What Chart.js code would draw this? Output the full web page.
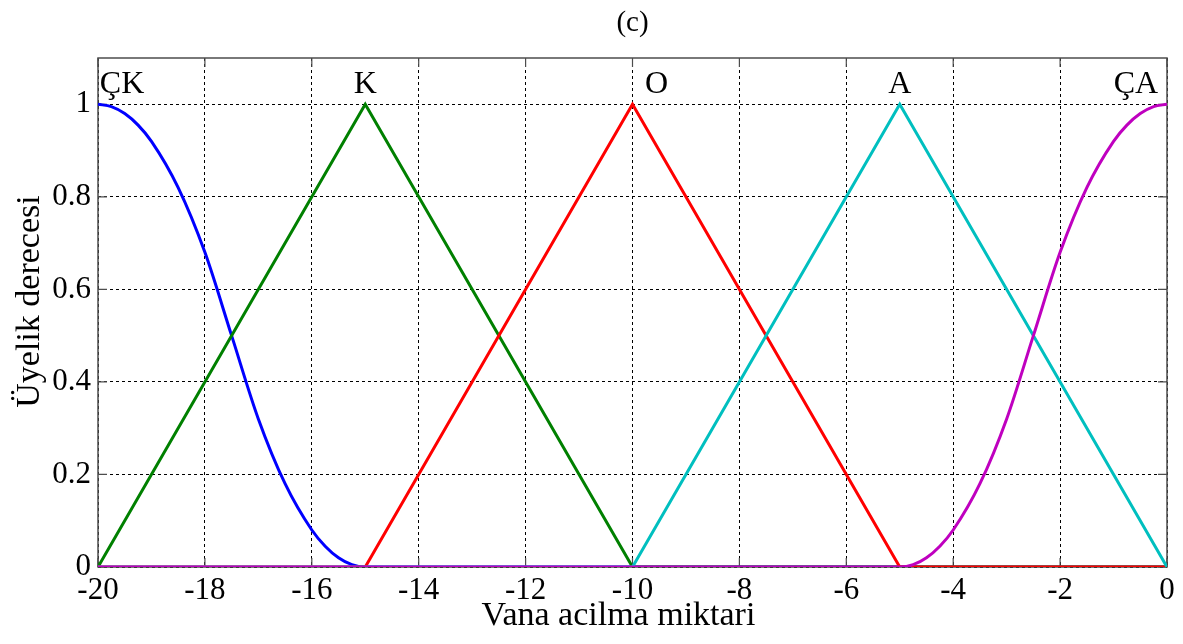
<!DOCTYPE html>
<html>
<head>
<meta charset="utf-8">
<script src="https://cdn.jsdelivr.net/npm/chart.js@4/dist/chart.umd.min.js"></script>
<style>
  html, body { margin: 0; padding: 0; background: #fff; }
  #wrap { width: 1183px; height: 644px; }
</style>
</head>
<body>
<div id="wrap"><canvas id="c" width="1183" height="644"></canvas></div>
<script>
// Membership functions of the valve-opening output variable
const xTicks = [-20, -18, -16, -14, -12, -10, -8, -6, -4, -2, 0];
const yTicks = [0, 0.2, 0.4, 0.6, 0.8, 1];
const yTickLabels = ['0', '0.2', '0.4', '0.6', '0.8', '1'];

// ÇK: Z-shaped curve, sampled
const ckX = [-20, -19.75, -19.5, -19.25, -19, -18.5, -18, -17.5, -17, -16.5, -16, -15.75, -15.5, -15.25, -15, 0];
const ckY = [1, 0.995, 0.98, 0.955, 0.92, 0.82, 0.68, 0.5, 0.32, 0.18, 0.08, 0.045, 0.02, 0.005, 0, 0];
// K, O, A: triangles
const kX = [-20, -15, -10, 0];
const kY = [0, 1, 0, 0];
const oX = [-20, -15, -10, -5, 0];
const oY = [0, 0, 1, 0, 0];
const aX = [-20, -10, -5, 0];
const aY = [0, 0, 1, 0];
// ÇA: S-shaped curve, sampled
const caX = [-20, -5, -4.75, -4.5, -4.25, -4, -3.5, -3, -2.5, -2, -1.5, -1, -0.75, -0.5, -0.25, 0];
const caY = [0, 0, 0.005, 0.02, 0.045, 0.08, 0.18, 0.32, 0.5, 0.68, 0.82, 0.92, 0.955, 0.98, 0.995, 1];

// Set names written above the peaks
const setNames = ['ÇK', 'K', 'O', 'A', 'ÇA'];
const setNameX = [-19.55, -15, -9.55, -5, -0.58];
const setNameY = 1.024;

const xTitle = 'Vana acilma miktari';
const yTitle = 'Üyelik derecesi';

const serif = '"Liberation Serif", "Times New Roman", serif';

const pts = (xs, ys) => xs.map((x, i) => ({ x: x, y: ys[i] }));

const frame = {
  id: 'frame',
  beforeDatasetsDraw(chart) {
    const { ctx, chartArea: a, scales } = chart;
    ctx.save();
    ctx.strokeStyle = '#4d4d4d';
    ctx.lineWidth = 1.5;
    ctx.strokeRect(a.left, a.top, a.right - a.left, a.bottom - a.top);
    const tl = 9;
    ctx.lineWidth = 1.2;
    ctx.beginPath();
    xTicks.forEach(v => {
      const px = scales.x.getPixelForValue(v);
      ctx.moveTo(px, a.bottom); ctx.lineTo(px, a.bottom - tl);
      ctx.moveTo(px, a.top); ctx.lineTo(px, a.top + tl);
    });
    yTicks.forEach(v => {
      const py = scales.y.getPixelForValue(v);
      ctx.moveTo(a.left, py); ctx.lineTo(a.left + tl, py);
      ctx.moveTo(a.right, py); ctx.lineTo(a.right - tl, py);
    });
    ctx.stroke();
    ctx.restore();
  },
  afterDatasetsDraw(chart) {
    const { ctx, scales, chartArea: a } = chart;
    ctx.save();
    ctx.fillStyle = '#000';
    ctx.font = '32px ' + serif;
    ctx.textAlign = 'center';
    ctx.textBaseline = 'alphabetic';
    setNames.forEach((t, i) => {
      ctx.fillText(t, scales.x.getPixelForValue(setNameX[i]), scales.y.getPixelForValue(setNameY));
    });
    // axis titles
    ctx.font = '34px ' + serif;
    ctx.fillText(xTitle, (a.left + a.right) / 2 - 14, 625);
    ctx.translate(39, (a.top + a.bottom) / 2 - 11);
    ctx.rotate(-Math.PI / 2);
    ctx.fillText(yTitle, 0, 0);
    ctx.restore();
  }
};

const lineDs = (xs, ys, color, order, smooth) => ({
  data: pts(xs, ys),
  borderColor: color,
  backgroundColor: color,
  borderWidth: 3,
  pointRadius: 0,
  fill: false,
  order: order,
  tension: smooth ? 0.4 : 0,
  cubicInterpolationMode: smooth ? 'monotone' : 'default'
});

new Chart(document.getElementById('c'), {
  type: 'line',
  data: {
    datasets: [
      lineDs(ckX, ckY, '#0000ff', 5, true),
      lineDs(kX, kY, '#008000', 4, false),
      lineDs(oX, oY, '#ff0000', 3, false),
      lineDs(aX, aY, '#00bfbf', 2, false),
      lineDs(caX, caY, '#bf00bf', 1, true)
    ]
  },
  options: {
    responsive: false,
    animation: false,
    layout: { padding: { left: 0, right: 16, top: 0, bottom: 0 } },
    plugins: {
      legend: { display: false },
      tooltip: { enabled: false },
      title: {
        display: true,
        text: '(c)',
        fullSize: false,
        color: '#000',
        font: { family: serif, size: 29, weight: 'normal', lineHeight: 1.2 },
        padding: { top: 6, bottom: 17.2 }
      }
    },
    scales: {
      x: {
        type: 'linear',
        min: -20, max: 0,
        afterBuildTicks: s => { s.ticks = xTicks.map(v => ({ value: v })); },
        afterFit: s => { s.height = 77; },
        ticks: {
          color: '#000',
          font: { family: serif, size: 31 },
          padding: 5,
          maxRotation: 0,
          autoSkip: false,
          callback: v => String(v)
        },
        grid: { color: '#000', lineWidth: 1, drawTicks: false },
        border: { display: false, dash: [3, 3] }
      },
      y: {
        type: 'linear',
        min: 0, max: 1.1,
        afterBuildTicks: s => { s.ticks = yTicks.map(v => ({ value: v })); },
        afterFit: s => { s.width = 98; },
        ticks: {
          color: '#000',
          font: { family: serif, size: 31 },
          padding: 7,
          autoSkip: false,
          callback: v => yTickLabels[yTicks.indexOf(v)] ?? ''
        },
        grid: { color: '#000', lineWidth: 1, drawTicks: false },
        border: { display: false, dash: [3, 3] }
      }
    }
  },
  plugins: [frame]
});
</script>
</body>
</html>
